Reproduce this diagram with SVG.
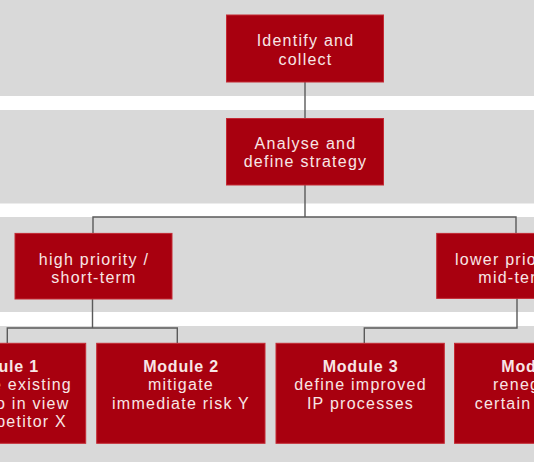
<svg xmlns="http://www.w3.org/2000/svg" width="534" height="462" viewBox="0 0 534 462">
<style>
.band{fill:#d9d9d9}
.node{fill:#a8000f;stroke:#c42a34;stroke-width:1}
.t{font-family:"Liberation Sans",Arial,sans-serif;font-size:16px;fill:#f8e6e6;letter-spacing:1.25px}
.b{font-weight:bold;letter-spacing:0.8px}
.c{text-anchor:middle}
.e{text-anchor:end}
.conn{stroke:#5a5a5a;stroke-width:1.4;fill:none}
</style>
<rect x="0" y="0" width="534" height="462" fill="#ffffff"/>
<rect class="band" x="0" y="0" width="534" height="96"/>
<rect class="band" x="0" y="110" width="534" height="93.5"/>
<rect class="band" x="0" y="217" width="534" height="95"/>
<rect class="band" x="0" y="326" width="534" height="136"/>
<g id="connectors">
<path class="conn" d="M305 82V118.5"/>
<path class="conn" d="M305 185V217M93 233V217H516V233"/>
<path class="conn" d="M92.5 299V328M7.3 343V328H177.3V343"/>
<path class="conn" d="M517 298V328H364.3V343"/>
</g>
<g id="identify">
<rect class="node" x="226.5" y="15" width="157" height="67"/>
<text class="t c" x="305.5" y="46">Identify and</text>
<text class="t c" x="305.5" y="64.7">collect</text>
</g>
<g id="analyse">
<rect class="node" x="226.5" y="118.5" width="157" height="66.5"/>
<text class="t c" x="305.5" y="149.4">Analyse and</text>
<text class="t c" x="305.5" y="167.4">define strategy</text>
</g>
<g id="high">
<rect class="node" x="15" y="233.4" width="157" height="65.6"/>
<text class="t c" x="94" y="264.7">high priority /</text>
<text class="t c" x="94" y="283.4">short-term</text>
</g>
<g id="lower">
<rect class="node" x="436.7" y="233.4" width="157" height="65"/>
<text class="t" x="455" y="264.7">lower prio</text>
<text class="t" x="478.3" y="283.4">mid-ter</text>
</g>
<g id="module1">
<rect class="node" x="-82.6" y="343.3" width="168.3" height="100"/>
<text class="t b e" x="39" y="371.5">ule 1</text>
<text class="t e" x="72" y="390">e existing</text>
<text class="t e" x="69.5" y="408.7">o in view</text>
<text class="t e" x="67" y="427.3">petitor X</text>
</g>
<g id="module2">
<rect class="node" x="96.7" y="343.3" width="168.3" height="100"/>
<text class="t b c" x="181" y="371.5">Module 2</text>
<text class="t c" x="181" y="390">mitigate</text>
<text class="t c" x="181" y="408.7">immediate risk Y</text>
</g>
<g id="module3">
<rect class="node" x="276" y="343.3" width="168.3" height="100"/>
<text class="t b c" x="360.5" y="371.5">Module 3</text>
<text class="t c" x="360.5" y="390">define improved</text>
<text class="t c" x="360.5" y="408.7">IP processes</text>
</g>
<g id="module4">
<rect class="node" x="454.5" y="343.3" width="168.3" height="100"/>
<text class="t b" x="501.3" y="371.5">Mod</text>
<text class="t" x="493" y="390">reneg</text>
<text class="t" x="474.7" y="408.7">certain</text>
</g>
</svg>
